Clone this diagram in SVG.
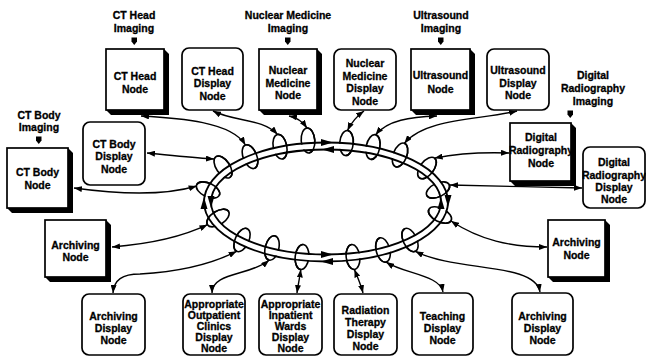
<svg xmlns="http://www.w3.org/2000/svg" width="646" height="360" viewBox="0 0 646 360">
<style>
.t{font-family:"Liberation Sans",Arial,Helvetica,sans-serif;font-weight:bold;font-size:10.5px;text-anchor:middle;fill:#000;stroke:#000;stroke-width:0.3}
.box{fill:#fff;stroke:#000;stroke-width:1.7}
.dsp{fill:#fff;stroke:#000;stroke-width:1.7}
.sh{fill:#000}
.cn{fill:none;stroke:#000;stroke-width:1.4;marker-start:url(#ah);marker-end:url(#ah)}
.lp{fill:none;stroke:#000;stroke-width:1.6}
.ring{fill:none;stroke:#000;stroke-width:1.8}
.band{fill:none;stroke:#fff;stroke-width:5.2}
.ind{fill:#000}
</style>
<defs>
<marker id="ah" viewBox="0 0 8 6" refX="8" refY="3" markerWidth="8" markerHeight="6" orient="auto-start-reverse" markerUnits="userSpaceOnUse"><path d="M0,0 L8,3 L0,6 z" fill="#000"/></marker>
<ellipse id="lb" rx="12.5" ry="6.8"/>
<path id="lf" d="M-12.5,0 A12.5,6.8 0 0 0 12.5,0"/>
</defs>

<!-- Ring with coupling loops -->
<g id="ring">
<g class="lp">
<use href="#lb" transform="translate(250,156.7) rotate(-111.5)"/>
<use href="#lb" transform="translate(280,146.7) rotate(-101.2)"/>
<use href="#lb" transform="translate(308,140.5) rotate(-94.1)"/>
<use href="#lb" transform="translate(346.5,143) rotate(-85.3)"/>
<use href="#lb" transform="translate(373,147) rotate(-78.5)"/>
<use href="#lb" transform="translate(400,155) rotate(-69.3)"/>
<use href="#lb" transform="translate(427,168) rotate(-52.4)"/>
<use href="#lb" transform="translate(438,190) rotate(-25.6)"/>
<use href="#lb" transform="translate(440,215) rotate(27)"/>
<use href="#lb" transform="translate(410,240) rotate(64.6)"/>
<use href="#lb" transform="translate(383,250) rotate(75.5)"/>
<use href="#lb" transform="translate(353,257) rotate(83.7)"/>
<use href="#lb" transform="translate(302,257) rotate(95.6)"/>
<use href="#lb" transform="translate(272,248) rotate(103.6)"/>
<use href="#lb" transform="translate(242,240) rotate(115.4)"/>
<use href="#lb" transform="translate(218,218) rotate(147.6)"/>
<use href="#lb" transform="translate(208,190) rotate(205)"/>
<use href="#lb" transform="translate(223,167) rotate(235.9)"/>
</g>
<ellipse class="band" cx="326" cy="202" rx="118.5" ry="56"/>
<ellipse class="ring" cx="326" cy="202" rx="122" ry="59.5"/>
<ellipse class="ring" cx="326" cy="202" rx="115" ry="52.5"/>
<g class="lp">
<use href="#lf" transform="translate(250,156.7) rotate(-111.5)"/>
<use href="#lf" transform="translate(280,146.7) rotate(-101.2)"/>
<use href="#lf" transform="translate(308,140.5) rotate(-94.1)"/>
<use href="#lf" transform="translate(346.5,143) rotate(-85.3)"/>
<use href="#lf" transform="translate(373,147) rotate(-78.5)"/>
<use href="#lf" transform="translate(400,155) rotate(-69.3)"/>
<use href="#lf" transform="translate(427,168) rotate(-52.4)"/>
<use href="#lf" transform="translate(438,190) rotate(-25.6)"/>
<use href="#lf" transform="translate(440,215) rotate(27)"/>
<use href="#lf" transform="translate(410,240) rotate(64.6)"/>
<use href="#lf" transform="translate(383,250) rotate(75.5)"/>
<use href="#lf" transform="translate(353,257) rotate(83.7)"/>
<use href="#lf" transform="translate(302,257) rotate(95.6)"/>
<use href="#lf" transform="translate(272,248) rotate(103.6)"/>
<use href="#lf" transform="translate(242,240) rotate(115.4)"/>
<use href="#lf" transform="translate(218,218) rotate(147.6)"/>
<use href="#lf" transform="translate(208,190) rotate(205)"/>
<use href="#lf" transform="translate(223,167) rotate(235.9)"/>
</g>
<g fill="#000">
<polygon points="333,142.5 321,139 321,146"/>
<polygon points="322,149.5 334,146 334,153"/>
<polygon points="321,261.5 333,258 333,265"/>
<polygon points="333,254.5 321,251 321,258"/>
<polygon points="204,197 200.5,209 207.5,209"/>
<polygon points="211,208 207.5,196 214.5,196"/>
<polygon points="448,207 444.5,195 451.5,195"/>
<polygon points="441,197 437.5,209 444.5,209"/>
</g>
</g>

<!-- Connectors -->
<g id="connectors">
<path class="cn" d="M141,116 C180,118 232,122 245.4,145"/>
<path class="cn" d="M213,111 C235,122 262,118 277.6,134.4"/>
<path class="cn" d="M289,116 Q300,118 307,128"/>
<path class="cn" d="M364,111 Q353,119 347.5,130.5"/>
<path class="cn" d="M437,116 C410,117 388,120 375.5,134.8"/>
<path class="cn" d="M517,111 C480,120 425,118 404.4,143.3"/>
<path class="cn" d="M509,153 C480,152 455,154 434.6,158.1"/>
<path class="cn" d="M582,188 C540,187 490,186 450,185"/>
<path class="cn" d="M547,247 C510,247 480,240 451,221"/>
<path class="cn" d="M540,292 C535,262 455,272 415.4,251.3"/>
<path class="cn" d="M443,292 C440,275 405,274 386.1,262.1"/>
<path class="cn" d="M363,293 C361,285 357,276 354.4,269.4"/>
<path class="cn" d="M297,293 C298,285 300,276 300.8,269.4"/>
<path class="cn" d="M212,293 C212,272 250,276 269.1,260.2"/>
<path class="cn" d="M113,293 C114,280 122,274 140,274 C175,272 210,265 236.6,251.3"/>
<path class="cn" d="M112,247 C150,244 180,238 207.5,224.7"/>
<path class="cn" d="M74,188 C110,193 160,197 196.7,186"/>
<path class="cn" d="M147,153 C170,155 195,158 214,159"/>
</g>

<!-- Imaging source labels -->
<g id="lbl-cthead">
<text class="t" x="134" y="18.5">CT Head</text>
<text class="t" x="134" y="32">Imaging</text>
<path class="ind" d="M131.5,37.5 h5.5 v4 l-2.75,3.5 l-2.75,-3.5 z"/>
</g>
<g id="lbl-nm">
<text class="t" x="288" y="18.5">Nuclear Medicine</text>
<text class="t" x="288" y="32">Imaging</text>
<path class="ind" d="M285,37.5 h5.5 v4 l-2.75,3.5 l-2.75,-3.5 z"/>
</g>
<g id="lbl-us">
<text class="t" x="441" y="18.5">Ultrasound</text>
<text class="t" x="441" y="32">Imaging</text>
<path class="ind" d="M438,37.5 h5.5 v4 l-2.75,3.5 l-2.75,-3.5 z"/>
</g>
<g id="lbl-dr">
<text class="t" x="593" y="78.5">Digital</text>
<text class="t" x="593" y="91.5">Radiography</text>
<text class="t" x="593" y="104.5">Imaging</text>
<path class="ind" d="M567.5,110.5 h5.5 v4 l-2.75,3.5 l-2.75,-3.5 z"/>
</g>
<g id="lbl-ctbody">
<text class="t" x="39" y="118.5">CT Body</text>
<text class="t" x="39" y="131">Imaging</text>
<path class="ind" d="M36,136.5 h5.5 v4 l-2.75,3.5 l-2.75,-3.5 z"/>
</g>

<!-- Nodes -->
<g id="ct-head-node">
<polygon class="sh" points="164,49 169,54 169,115 111,115 106,110"/>
<rect class="box" x="106" y="49" width="58" height="61"/>
<text class="t" x="135" y="80">CT Head</text>
<text class="t" x="135" y="93">Node</text>
</g>
<g id="ct-head-display">
<rect class="dsp" x="182" y="48" width="61" height="62" rx="7"/>
<text class="t" x="212.5" y="74.5">CT Head</text>
<text class="t" x="212.5" y="87">Display</text>
<text class="t" x="212.5" y="99.5">Node</text>
</g>
<g id="nm-node">
<polygon class="sh" points="317,49 322,54 322,115 264,115 259,110"/>
<rect class="box" x="259" y="49" width="58" height="61"/>
<text class="t" x="288" y="74">Nuclear</text>
<text class="t" x="288" y="86.5">Medicine</text>
<text class="t" x="288" y="99">Node</text>
</g>
<g id="nm-display">
<rect class="dsp" x="334" y="49" width="62" height="61" rx="7"/>
<text class="t" x="365" y="67">Nuclear</text>
<text class="t" x="365" y="79.5">Medicine</text>
<text class="t" x="365" y="92">Display</text>
<text class="t" x="365" y="104.5">Node</text>
</g>
<g id="us-node">
<polygon class="sh" points="470,49 475,54 475,115 416,115 411,110"/>
<rect class="box" x="411" y="49" width="59" height="61"/>
<text class="t" x="440.5" y="79">Ultrasound</text>
<text class="t" x="440.5" y="92.5">Node</text>
</g>
<g id="us-display">
<rect class="dsp" x="487" y="49" width="62" height="61" rx="7"/>
<text class="t" x="518" y="74">Ultrasound</text>
<text class="t" x="518" y="86.5">Display</text>
<text class="t" x="518" y="99">Node</text>
</g>
<g id="dr-node">
<polygon class="sh" points="571,123 576,128 576,186 515,186 510,181"/>
<rect class="box" x="510" y="123" width="61" height="58"/>
<text class="t" x="541" y="140.5">Digital</text>
<text class="t" x="541" y="153.5">Radiography</text>
<text class="t" x="541" y="166.5">Node</text>
</g>
<g id="dr-display">
<rect class="dsp" x="583" y="147" width="62" height="61" rx="7"/>
<text class="t" x="614" y="165.5">Digital</text>
<text class="t" x="614" y="178.5">Radiography</text>
<text class="t" x="614" y="190.5">Display</text>
<text class="t" x="614" y="203">Node</text>
</g>
<g id="archiving-node-right">
<polygon class="sh" points="605,220 610,225 610,282 553,282 548,277"/>
<rect class="box" x="548" y="220" width="57" height="57"/>
<text class="t" x="576.5" y="246">Archiving</text>
<text class="t" x="576.5" y="258.5">Node</text>
</g>
<g id="archiving-display-right">
<rect class="dsp" x="512" y="293" width="61" height="62" rx="7"/>
<text class="t" x="542.5" y="319.5">Archiving</text>
<text class="t" x="542.5" y="331.5">Display</text>
<text class="t" x="542.5" y="343.5">Node</text>
</g>
<g id="teaching-display">
<rect class="dsp" x="412" y="293" width="61" height="62" rx="7"/>
<text class="t" x="442.5" y="319.5">Teaching</text>
<text class="t" x="442.5" y="331.5">Display</text>
<text class="t" x="442.5" y="343.5">Node</text>
</g>
<g id="radiation-therapy-display">
<rect class="dsp" x="334" y="294" width="63" height="61" rx="7"/>
<text class="t" x="365.5" y="313.5">Radiation</text>
<text class="t" x="365.5" y="325.5">Therapy</text>
<text class="t" x="365.5" y="337.5">Display</text>
<text class="t" x="365.5" y="350">Node</text>
</g>
<g id="inpatient-display">
<rect class="dsp" x="259" y="294" width="63" height="61" rx="7"/>
<text class="t" x="290.5" y="307.5">Appropriate</text>
<text class="t" x="290.5" y="318.5">Inpatient</text>
<text class="t" x="290.5" y="330">Wards</text>
<text class="t" x="290.5" y="341">Display</text>
<text class="t" x="290.5" y="351.5">Node</text>
</g>
<g id="outpatient-display">
<rect class="dsp" x="183" y="294" width="62" height="61" rx="7"/>
<text class="t" x="214" y="307.5">Appropriate</text>
<text class="t" x="214" y="318.5">Outpatient</text>
<text class="t" x="214" y="330">Clinics</text>
<text class="t" x="214" y="341">Display</text>
<text class="t" x="214" y="351.5">Node</text>
</g>
<g id="archiving-display-left">
<rect class="dsp" x="82" y="294" width="63" height="61" rx="7"/>
<text class="t" x="113.5" y="319.5">Archiving</text>
<text class="t" x="113.5" y="331.5">Display</text>
<text class="t" x="113.5" y="343.5">Node</text>
</g>
<g id="archiving-node-left">
<polygon class="sh" points="106,220 111,225 111,282 50,282 45,277"/>
<rect class="box" x="45" y="220" width="61" height="57"/>
<text class="t" x="75.5" y="249">Archiving</text>
<text class="t" x="75.5" y="261">Node</text>
</g>
<g id="ct-body-node">
<polygon class="sh" points="68,148 73,153 73,213 12,213 7,208"/>
<rect class="box" x="7" y="148" width="61" height="60"/>
<text class="t" x="37.5" y="175.5">CT Body</text>
<text class="t" x="37.5" y="189">Node</text>
</g>
<g id="ct-body-display">
<rect class="dsp" x="83" y="122" width="62" height="63" rx="7"/>
<text class="t" x="114" y="147.5">CT Body</text>
<text class="t" x="114" y="160">Display</text>
<text class="t" x="114" y="172.5">Node</text>
</g>
</svg>
